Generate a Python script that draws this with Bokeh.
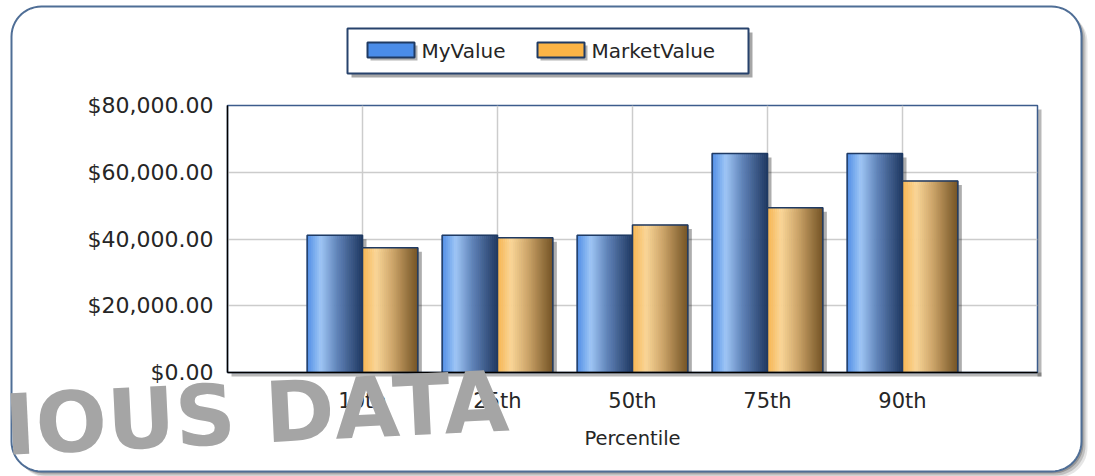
import numpy as np
from bokeh.plotting import figure
from bokeh.models import Range1d, FixedTicker, NumeralTickFormatter, ColumnDataSource
from bokeh.core.properties import value
from bokeh.embed import file_html
from bokeh.resources import INLINE

# ---------------- data ----------------
categories = ["10th", "25th", "50th", "75th", "90th"]
my_value = [41100, 41100, 41100, 65600, 65600]
market_value = [37400, 40400, 44200, 49400, 57400]
series_names = ["MyValue", "MarketValue"]
y_tick_values = [0, 20000, 40000, 60000, 80000]
x_title = "Percentile"
watermark_text = "IOUS DATA"

# ---------------- layout (window pixels) ----------------
W, H = 1095, 476
FRAME_L, FRAME_R, FRAME_T, FRAME_B = 227, 1037, 105, 372
X_MIN, X_MAX = 0, len(categories) + 1
Y_MIN, Y_MAX = 0, 80000
FONT = "DejaVu Sans"
TXT = "#262626"
ABS = {"position": "absolute", "left": "0px", "top": "0px"}


def overlay_figure():
    f = figure(width=W, height=H, output_backend="svg", toolbar_location=None,
               x_range=Range1d(0, W), y_range=Range1d(0, H), min_border=0,
               x_axis_location=None, y_axis_location=None)
    f.grid.visible = False
    f.outline_line_color = None
    f.background_fill_color = None
    f.border_fill_color = None
    f.styles = dict(ABS)
    return f


def Y(py):
    return H - py


def rounded_rect(l, t, r, b, rad, n=14):
    pts = []
    for cx, cy, a0, a1 in [(r - rad, t + rad, -90, 0), (r - rad, b - rad, 0, 90),
                           (l + rad, b - rad, 90, 180), (l + rad, t + rad, 180, 270)]:
        for a in np.linspace(np.radians(a0), np.radians(a1), n):
            pts.append((cx + rad * np.cos(a), cy + rad * np.sin(a)))
    return [q[0] for q in pts], [Y(q[1]) for q in pts]


# ---------------- background decoration layer ----------------
deco = overlay_figure()
for off, alpha in [(6, 0.10), (4, 0.16), (2, 0.22)]:
    xs_, ys_ = rounded_rect(11 + off, 6 + off, 1081 + off, 471 + off, 30)
    deco.patch(xs_, ys_, fill_color="#000000", fill_alpha=alpha, line_color=None)
xs_, ys_ = rounded_rect(11, 6, 1081, 471, 30)
deco.patch(xs_, ys_, fill_color="white", line_color="#4f6e96", line_width=2)

# plot-frame shadow
deco.quad(left=[FRAME_R, FRAME_L + 4], right=[FRAME_R + 4, FRAME_R + 4],
          top=[Y(FRAME_T + 4), Y(FRAME_B)], bottom=[Y(FRAME_B + 4), Y(FRAME_B + 4)],
          fill_color="#000000", fill_alpha=0.28, line_color=None)

# legend
LG_L, LG_R, LG_T, LG_B = 347, 748, 28, 73
deco.quad(left=LG_L + 4, right=LG_R + 4, top=Y(LG_T + 4), bottom=Y(LG_B + 4),
          fill_color="#000000", fill_alpha=0.35, line_color=None)
deco.quad(left=LG_L, right=LG_R, top=Y(LG_T), bottom=Y(LG_B),
          fill_color="white", line_color="#27426c", line_width=2)
swatch_x = [367, 537]
swatch_colors = ["#4a8ce8", "#fbb446"]
for sx0, name, col in zip(swatch_x, series_names, swatch_colors):
    deco.quad(left=sx0 + 3, right=sx0 + 50, top=Y(45), bottom=Y(60),
              fill_color="#000000", fill_alpha=0.3, line_color=None)
    deco.quad(left=sx0, right=sx0 + 47, top=Y(42), bottom=Y(57),
              fill_color=col, line_color="#1f3a63", line_width=2)
    deco.text(x=[sx0 + 54], y=[Y(50)], text=[name], text_align="left",
              text_baseline="middle", text_font=value(FONT), text_font_size="20px",
              text_color=TXT)

# ---------------- chart layer ----------------
p = figure(width=W, height=H, output_backend="svg", toolbar_location=None,
           x_range=Range1d(X_MIN, X_MAX), y_range=Range1d(Y_MIN, Y_MAX),
           min_border_left=FRAME_L, min_border_right=W - FRAME_R,
           min_border_top=FRAME_T, min_border_bottom=H - FRAME_B)
p.styles = dict(ABS)
p.background_fill_color = "white"
p.border_fill_color = None
p.outline_line_color = "#3c5c8c"
p.outline_line_width = 1.5

xs = np.arange(1, len(categories) + 1, dtype=float)

p.xgrid.ticker = FixedTicker(ticks=list(xs))
p.ygrid.ticker = FixedTicker(ticks=y_tick_values)
for g in (p.xgrid, p.ygrid):
    g.grid_line_color = "#cccccc"
    g.grid_line_width = 1.5

p.yaxis.ticker = FixedTicker(ticks=y_tick_values)
p.yaxis.formatter = NumeralTickFormatter(format="$0,0.00")
p.xaxis.ticker = FixedTicker(ticks=list(xs))
p.xaxis.major_label_overrides = {int(x): c for x, c in zip(xs, categories)}
for ax in (p.xaxis, p.yaxis):
    ax.major_tick_line_color = None
    ax.minor_tick_line_color = None
    ax.axis_line_color = "black"
    ax.axis_line_width = 1.5
    ax.major_label_text_font = FONT
    ax.major_label_text_color = TXT
p.yaxis.major_label_text_font_size = "22px"
p.yaxis.major_label_standoff = 8
p.xaxis.major_label_text_font_size = "21px"
p.xaxis.major_label_standoff = 10
p.xaxis.axis_label = x_title
p.xaxis.axis_label_text_font = FONT
p.xaxis.axis_label_text_font_style = "normal"
p.xaxis.axis_label_text_font_size = "19.5px"
p.xaxis.axis_label_text_color = TXT
p.xaxis.axis_label_standoff = 11

BW = 0.41
NSTRIP = 28
blue_stops = [(0.0, (78, 140, 230)), (0.25, (160, 199, 246)), (0.55, (96, 132, 186)),
              (1.0, (30, 56, 98))]
orange_stops = [(0.0, (247, 180, 78)), (0.25, (252, 216, 152)), (0.55, (206, 166, 106)),
                (1.0, (116, 84, 38))]


def interp(stops, t):
    for (t0, c0), (t1, c1) in zip(stops[:-1], stops[1:]):
        if t0 <= t <= t1:
            f = (t - t0) / (t1 - t0)
            c = [int(round(a + (b - a) * f)) for a, b in zip(c0, c1)]
            return "#%02x%02x%02x" % tuple(c)
    return "#%02x%02x%02x" % stops[-1][1]


SH_X = 4 * (X_MAX - X_MIN) / (FRAME_R - FRAME_L)
SH_Y = 4 * (Y_MAX - Y_MIN) / (FRAME_B - FRAME_T)


def draw_bars(centers, values, stops):
    centers = np.asarray(centers, dtype=float)
    values = np.asarray(values, dtype=float)
    p.vbar(x=centers + SH_X, top=values - SH_Y, bottom=Y_MIN, width=BW,
           fill_color="#000000", fill_alpha=0.32, line_color=None)
    sw = BW / NSTRIP
    sx, st, sc = [], [], []
    for k in range(NSTRIP):
        col = interp(stops, (k + 0.5) / NSTRIP)
        for c, v in zip(centers, values):
            sx.append(c - BW / 2 + (k + 0.5) * sw)
            st.append(v)
            sc.append(col)
    src = ColumnDataSource(dict(x=sx, top=st, color=sc))
    p.vbar(x="x", top="top", bottom=Y_MIN, width=sw * 1.05, source=src,
           fill_color="color", line_color="color", line_width=0.6)
    p.vbar(x=centers, top=values, bottom=Y_MIN, width=BW, fill_color=None,
           line_color="#1f3a63", line_width=1.5)


draw_bars(xs - BW / 2, my_value, blue_stops)
draw_bars(xs + BW / 2, market_value, orange_stops)

# ---------------- watermark layer (on top) ----------------
wm = overlay_figure()
wm.text(x=[508], y=[Y(401)], text=[watermark_text], text_align="right",
        text_baseline="alphabetic", angle=0.048, text_font=value(FONT),
        text_font_style="bold", text_font_size="84px", text_color="#a5a5a5")

# three stacked layers, each an independent root positioned at the window origin
open("out.html", "w").write(file_html([deco, p, wm], INLINE))
